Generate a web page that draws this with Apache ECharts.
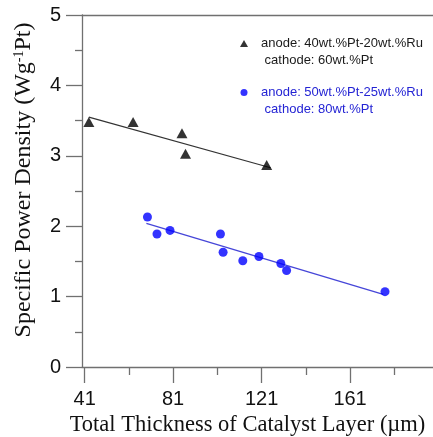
<!DOCTYPE html>
<html><head><meta charset="utf-8">
<script src="https://cdn.jsdelivr.net/npm/echarts@6/dist/echarts.min.js"></script>
<style>html,body{margin:0;padding:0;background:#fff}#c{width:433px;height:437px}</style>
</head><body><div id="c"></div>
<script>
// ---- data ----
const seriesNames = ['anode: 40wt.%Pt-20wt.%Ru\n cathode: 60wt.%Pt', 'anode: 50wt.%Pt-25wt.%Ru\n cathode: 80wt.%Pt'];
const triX = [42.9, 62.9, 85.0, 86.6, 123.3];
const triY = [3.48, 3.48, 3.32, 3.03, 2.87];
const fitTriX = [42.9, 125.1];
const fitTriY = [3.55, 2.83];
const dotX = [69.4, 73.7, 79.6, 102.4, 103.6, 112.5, 119.8, 129.7, 132.3, 176.8];
const dotY = [2.13, 1.89, 1.94, 1.89, 1.63, 1.51, 1.57, 1.47, 1.37, 1.07];
const fitDotX = [68.9, 176.0];
const fitDotY = [2.04, 1.03];
const xMajorTicks = [41, 81, 121, 161];
const xMinorTicks = [61, 101, 141, 181];
const xTitle = 'Total Thickness of Catalyst Layer (\u00b5m)';
const yTitleParts = ['Specific Power Density (Wg', '-1', 'Pt)'];

const pairs = (xs, ys) => xs.map((x, i) => [x, ys[i]]);
const axisColor = '#707070';
const XMIN = 39.8, XMAX = 198.5;

const chart = echarts.init(document.getElementById('c'));
chart.setOption({
  animation: false,
  backgroundColor: '#fff',
  grid: { left: 82, right: 0, top: 15, bottom: 70, outerBoundsMode: 'none', containLabel: false },
  legend: {
    data: [
      { name: seriesNames[0], icon: 'triangle', textStyle: { color: '#1a1a1a' } },
      { name: seriesNames[1], icon: 'circle', textStyle: { color: '#2424d4' } }
    ],
    formatter: (n) => ' \n' + n,
    orient: 'vertical', left: 240, top: 18, padding: 0, itemGap: -2,
    itemWidth: 8, itemHeight: 7, selectedMode: false,
    textStyle: { fontFamily: 'Liberation Sans', fontSize: 13, lineHeight: 17, padding: [0, 0, 0, 8] }
  },
  xAxis: [
    {
      type: 'value', position: 'bottom', min: XMIN, max: XMAX,
      axisLine: { lineStyle: { color: axisColor, width: 1.3 } },
      axisTick: { customValues: xMajorTicks, length: 16, lineStyle: { color: axisColor, width: 1.3 } },
      axisLabel: { customValues: xMajorTicks, margin: 22, fontSize: 20, color: '#111', fontFamily: 'Liberation Sans' },
      splitLine: { show: false },
      name: xTitle, nameLocation: 'middle', nameGap: 44,
      nameTextStyle: { fontFamily: 'Liberation Serif', fontSize: 22.5, color: '#111', padding: [0, 20, 0, 0] }
    },
    {
      type: 'value', position: 'bottom', min: XMIN, max: XMAX,
      axisLine: { show: false },
      axisTick: { customValues: xMinorTicks, length: 8, lineStyle: { color: axisColor, width: 1.3 } },
      axisLabel: { show: false }, splitLine: { show: false }
    },
    {
      type: 'value', position: 'top', min: XMIN, max: XMAX,
      axisLine: { lineStyle: { color: axisColor, width: 1.3 } },
      axisTick: { show: false }, axisLabel: { show: false }, splitLine: { show: false }
    }
  ],
  yAxis: {
    type: 'value', min: 0, max: 5, interval: 1,
    axisLine: { show: true, lineStyle: { color: axisColor, width: 1.3 } },
    axisTick: { show: true, length: 16, lineStyle: { color: axisColor, width: 1.3 } },
    minorTick: { show: true, splitNumber: 2, length: 7, lineStyle: { color: axisColor, width: 1.3 } },
    axisLabel: { margin: 21, fontSize: 20, color: '#111', fontFamily: 'Liberation Sans' },
    splitLine: { show: false },
    name: '{t|' + yTitleParts[0] + '}{s|' + yTitleParts[1] + '}{t|' + yTitleParts[2] + '}',
    nameLocation: 'middle', nameGap: 46,
    nameTextStyle: {
      padding: [0, 0, 0, 22],
      rich: {
        t: { fontFamily: 'Liberation Serif', fontSize: 24, color: '#111' },
        s: { fontFamily: 'Liberation Serif', fontSize: 14, color: '#111', verticalAlign: 'bottom', padding: [0, 0, 10, 0] }
      }
    }
  },
  series: [
    { type: 'line', data: pairs(fitTriX, fitTriY), symbol: 'none', silent: true, z: 1,
      lineStyle: { color: '#333', width: 1.2 } },
    { type: 'line', data: pairs(fitDotX, fitDotY), symbol: 'none', silent: true, z: 1,
      lineStyle: { color: '#4646d8', width: 1.3 } },
    { name: seriesNames[0], type: 'scatter', data: pairs(triX, triY), symbol: 'triangle',
      symbolSize: [11, 10], itemStyle: { color: '#000' }, z: 3 },
    { name: seriesNames[1], type: 'scatter', data: pairs(dotX, dotY), symbol: 'circle',
      symbolSize: 9, itemStyle: { color: '#0000ff' }, z: 3 }
  ]
});
</script></body></html>
